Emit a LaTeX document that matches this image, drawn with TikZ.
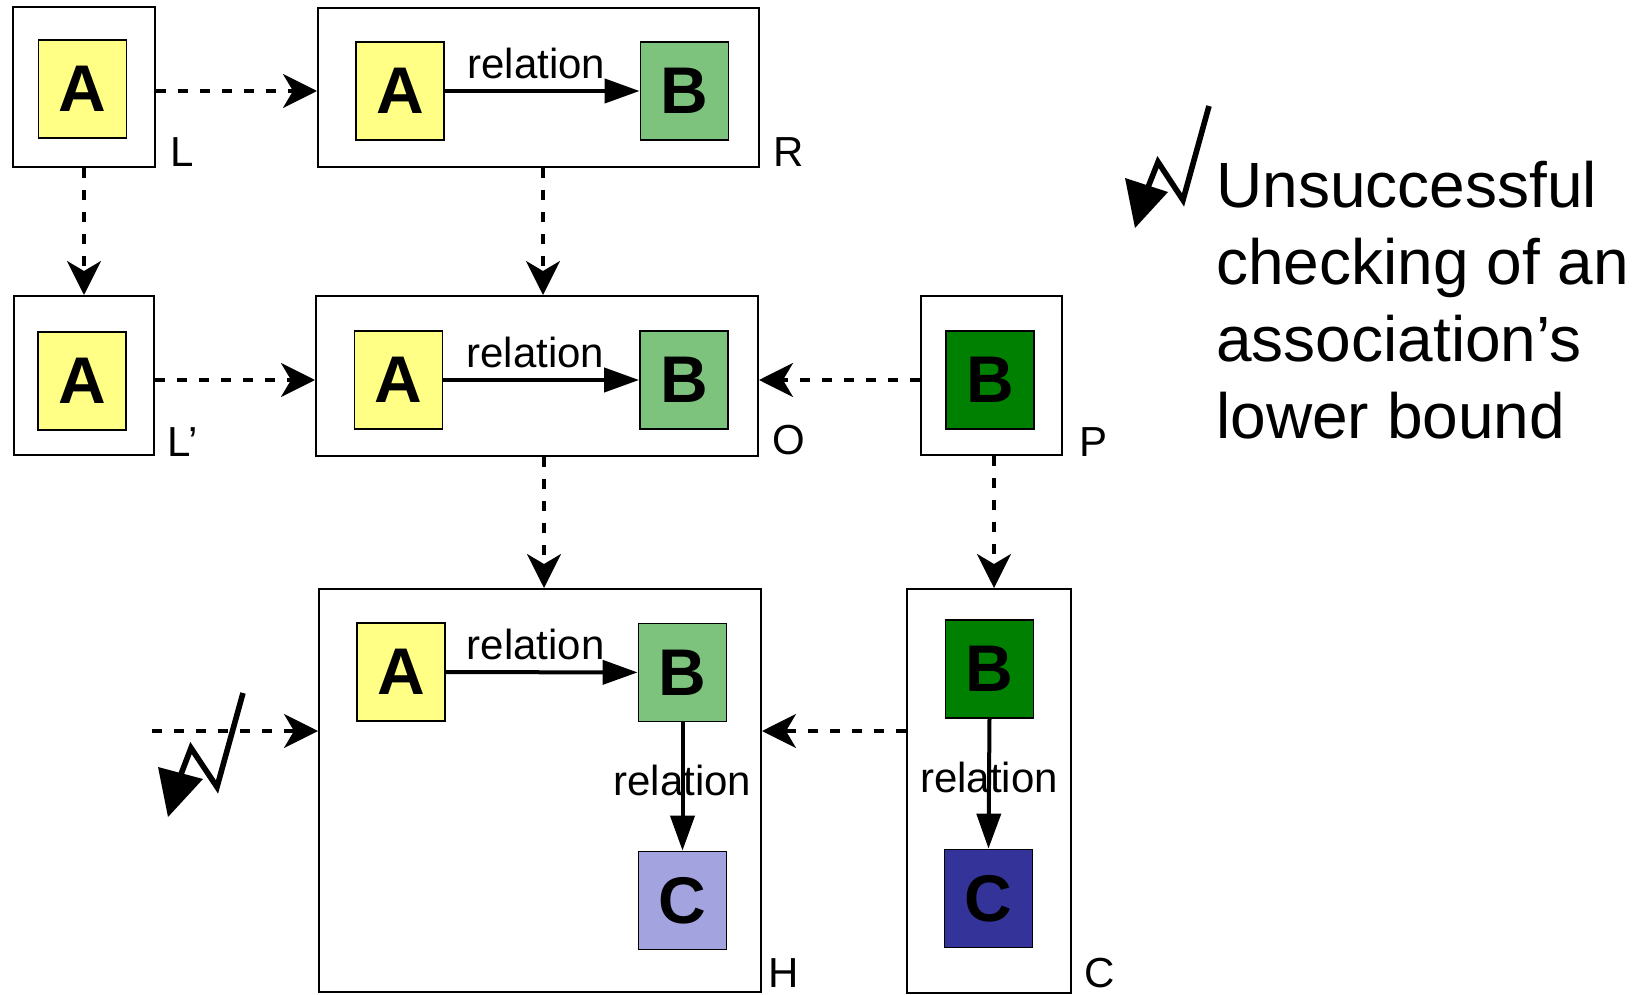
\documentclass[tikz,border=0pt]{standalone}
\usepackage{fontspec}
\setmainfont{Liberation Sans}
\usetikzlibrary{arrows.meta}
\definecolor{paleyellow}{HTML}{FFFF85}
\definecolor{palegreen}{HTML}{7DC27D}
\definecolor{paleblue}{HTML}{A3A3E0}
\definecolor{deepgreen}{HTML}{008000}
\definecolor{deepblue}{HTML}{333399}
\begin{document}
\begin{tikzpicture}[x=0.5pt,y=-0.5pt,
  frame/.style={draw=black, line width=1pt, fill=white, inner sep=0pt},
  item/.style={draw=black, line width=0.9pt, inner sep=0pt,
    minimum width=44pt, minimum height=49pt,
    font=\fontsize{33}{33}\selectfont\bfseries},
  tag/.style={font=\fontsize{21}{21}\selectfont, inner sep=0pt},
  rel/.style={font=\fontsize{21}{21}\selectfont, inner sep=0pt},
  flow/.style={dash pattern=on 5pt off 6pt, line width=1.6pt,
    -{Stealth[length=17pt,width=17pt,inset=5pt]}},
  link/.style={line width=2pt, -{Triangle[length=17.5pt,width=12pt]}},
  bolt/.style={line width=2.8pt, line join=miter},
]
\useasboundingbox (0,0) rectangle (1634,995);

% outer containers
\node[frame, minimum width=71pt, minimum height=80pt] (L) at (84,87) {};
\node[frame, minimum width=220.5pt, minimum height=79.5pt] (R) at (538.5,87.5) {};
\node[frame, minimum width=70pt, minimum height=79.5pt] (Lp) at (84,375.5) {};
\node[frame, minimum width=221pt, minimum height=80pt] (O) at (537,376) {};
\node[frame, minimum width=70.5pt, minimum height=79.5pt] (P) at (991.5,375.5) {};
\node[frame, minimum width=221pt, minimum height=201.5pt] (H) at (540,790.5) {};
\node[frame, minimum width=82pt, minimum height=202pt] (C) at (989,791) {};

% container names
\node[tag] (tL) at (182,152) {L};
\node[tag] (tR) at (789,152) {R};
\node[tag] (tLp) at (183,442) {L’};
\node[tag] (tO) at (789,440) {O};
\node[tag] (tP) at (1093,442) {P};
\node[tag] (tH) at (784,973) {H};
\node[tag] (tC) at (1100,973) {C};

% elements
\node[item, fill=paleyellow] (la) at (82.5,89) {A};
\node[item, fill=paleyellow] (ra) at (400,91) {A};
\node[item, fill=palegreen] (rb) at (684.5,91) {B};
\node[item, fill=paleyellow] (lpa) at (82,381) {A};
\node[item, fill=paleyellow] (oa) at (398.5,380) {A};
\node[item, fill=palegreen] (ob) at (684,380) {B};
\node[item, fill=deepgreen] (pb) at (990,380) {B};
\node[item, fill=paleyellow] (ha) at (401,672) {A};
\node[item, fill=palegreen] (hb) at (682.5,672.5) {B};
\node[item, fill=paleblue] (hc) at (682.5,900.5) {C};
\node[item, fill=deepgreen] (cb) at (989.5,669) {B};
\node[item, fill=deepblue] (cc) at (988.5,898.5) {C};

% relations inside the graphs
\draw[link] (ra) -- node[rel, above=5pt, xshift=-3pt] {relation} (rb);
\draw[link] (oa) -- node[rel, above=5pt, xshift=-3pt] {relation} (ob);
\draw[link] (ha) -- node[rel, above=5pt, xshift=-3pt] {relation} (hb);
\path (hb.south) -- node[rel, pos=0.45] {relation} (hc.north);
\draw[link] (hb.south) -- (hc.north);
\path (cb.south) -- node[rel, pos=0.45] {relation} (cc.north);
\draw[link] (cb.south) -- (cc.north);

% morphisms
\draw[flow] (L.east |- ra) -- (R.west |- ra);
\draw[flow] (L.south) -- (Lp.north);
\draw[flow] ([xshift=2.25pt]R.south) -- ([xshift=2.25pt]R.south |- O.north);
\draw[flow] (Lp.east |- oa) -- (O.west |- oa);
\draw[flow] (P.west |- ob) -- (O.east |- ob);
\draw[flow] ([xshift=3.5pt]O.south) -- ([xshift=3.5pt]O.south |- H.north);
\draw[flow] ([xshift=1.25pt]P.south) -- ([xshift=1.25pt]P.south |- C.north);
\coordinate (src) at (152,731);
\draw[flow] (src) -- (src -| H.west);
\draw[flow] (C.west |- src) -- (H.east |- src);

% failure marks
\draw[bolt] (243,693) -- (217,787) -- (191,748) -- (175,790);
\fill (158,767) -- (203,779) -- (168,817) -- cycle;
\draw[bolt] (1209,106) -- (1183,200) -- (1158,162) -- (1143,200);
\fill (1125,178) -- (1168,192) -- (1135,228) -- cycle;

% legend
\node[anchor=base west, align=left, inner sep=0pt,
  font=\fontsize{32}{38.5}\selectfont] (note) at (1216,438)
  {Unsuccessful\\checking of an\\association’s\\lower bound};
\end{tikzpicture}
\end{document}
